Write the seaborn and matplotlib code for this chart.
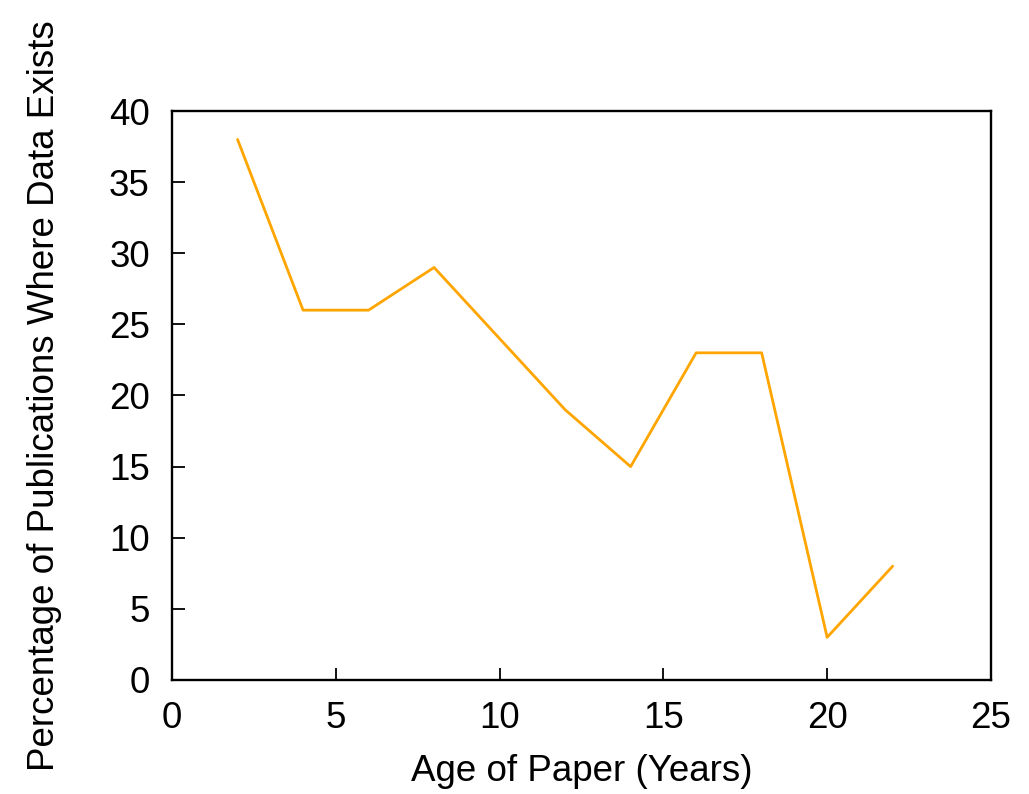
import matplotlib
matplotlib.use("Agg")
import matplotlib.pyplot as plt
import seaborn as sns
import pandas as pd

age_years = [2, 4, 6, 8, 10, 12, 14, 16, 18, 20, 22]
pct_data_exists = [38, 26, 26, 29, 24, 19, 15, 23, 23, 3, 8]
x_ticks = [0, 5, 10, 15, 20, 25]
y_ticks = [0, 5, 10, 15, 20, 25, 30, 35, 40]

sns.set_theme(style="white")
plt.rcParams['font.family'] = ['Liberation Sans', 'DejaVu Sans']

df = pd.DataFrame({"age": age_years, "pct": pct_data_exists})

fig = plt.figure(figsize=(10.29, 7.94), dpi=100)
ax = fig.add_axes([0.1672, 0.1436, 0.7958, 0.7166])
sns.lineplot(data=df, x="age", y="pct", ax=ax, color="#FFA500", linewidth=2.0)

ax.set_xlim(0, 25)
ax.set_ylim(0, 40)
ax.set_xticks(x_ticks)
ax.set_yticks(y_ticks)
ax.set_xticklabels([str(t) for t in x_ticks])
ax.set_yticklabels([str(t) for t in y_ticks])
ax.tick_params(axis="both", direction="in", length=9, width=1.3, color="black",
               labelsize=26.5, labelcolor="black", bottom=True, left=True, top=False, right=False)
ax.tick_params(axis="x", pad=15)
ax.tick_params(axis="y", pad=16)
for s in ax.spines.values():
    s.set_color("black")
    s.set_linewidth(1.7)
    s.set_visible(True)

ax.set_xlabel("Age of Paper (Years)", fontsize=26.5, color="black", labelpad=13)
ax.set_ylabel("Percentage of Publications Where Data Exists", fontsize=26.5, color="black", labelpad=34)

fig.savefig("out.png", dpi=100)
